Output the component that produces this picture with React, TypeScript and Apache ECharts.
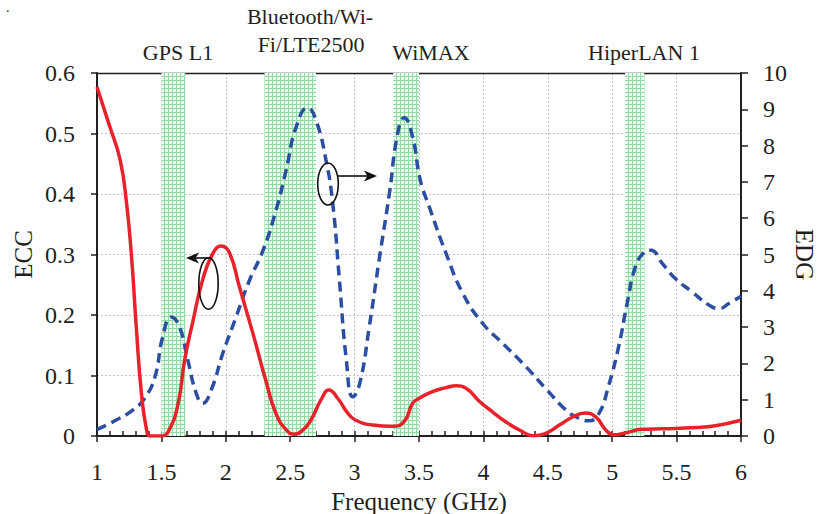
import React, { useEffect, useRef } from "react";
import * as echarts from "echarts";

// ECC (left axis)
const eccFreq = [1.0, 1.1, 1.18, 1.23, 1.27, 1.305, 1.345, 1.385, 1.41, 1.5, 1.56, 1.63, 1.68, 1.745, 1.82, 1.9, 1.965, 2.03, 2.105, 2.21, 2.31, 2.39, 2.47, 2.53, 2.6, 2.66, 2.74, 2.8, 2.87, 2.95, 3.01, 3.14, 3.29, 3.385, 3.45, 3.5, 3.6, 3.71, 3.79, 3.865, 3.97, 4.07, 4.17, 4.28, 4.39, 4.48, 4.59, 4.69, 4.79, 4.87, 4.95, 5.01, 5.1, 5.23, 5.39, 5.65, 5.8, 6.0];
const eccValues = [0.577, 0.511, 0.456, 0.384, 0.291, 0.18, 0.07, 0.01, 0, 0, 0.01, 0.054, 0.125, 0.19, 0.258, 0.302, 0.314, 0.302, 0.247, 0.17, 0.092, 0.037, 0.01, 0.003, 0.01, 0.026, 0.06, 0.076, 0.062, 0.037, 0.026, 0.018, 0.016, 0.024, 0.054, 0.062, 0.073, 0.08, 0.083, 0.079, 0.057, 0.04, 0.024, 0.01, 0.0005, 0.004, 0.018, 0.031, 0.038, 0.032, 0.01, 0.002, 0.005, 0.011, 0.012, 0.014, 0.017, 0.026];

// EDG (right axis)
const edgFreq = [1.0, 1.15, 1.28, 1.37, 1.45, 1.51, 1.577, 1.64, 1.705, 1.77, 1.82, 1.887, 1.977, 2.08, 2.184, 2.29, 2.39, 2.468, 2.546, 2.636, 2.7, 2.778, 2.83, 2.88, 2.936, 2.986, 3.04, 3.114, 3.19, 3.27, 3.334, 3.385, 3.45, 3.51, 3.58, 3.71, 3.84, 3.995, 4.15, 4.33, 4.483, 4.64, 4.74, 4.82, 4.897, 4.97, 5.05, 5.116, 5.18, 5.245, 5.3, 5.39, 5.49, 5.62, 5.75, 5.83, 5.905, 6.0];
const edgValues = [0.18, 0.44, 0.72, 1.04, 1.63, 2.73, 3.28, 3.01, 2.09, 1.18, 0.9, 1.27, 2.28, 3.28, 4.29, 5.12, 6.22, 7.32, 8.51, 9.04, 8.7, 7.6, 6.41, 4.39, 2.09, 1.08, 1.45, 3.01, 4.84, 6.68, 8.33, 8.77, 8.24, 7.05, 6.31, 5.03, 3.93, 3.1, 2.55, 1.91, 1.31, 0.72, 0.49, 0.42, 0.62, 1.36, 2.46, 3.65, 4.66, 5.05, 5.12, 4.75, 4.34, 3.97, 3.61, 3.51, 3.65, 3.85];

// Frequency bands (GHz)
const bandNames = ["GPS L1", "Bluetooth/Wi-Fi/LTE2500", "WiMAX", "HiperLAN 1"];
const bandStart = [1.5, 2.3, 3.3, 5.1];
const bandEnd = [1.685, 2.7, 3.5, 5.25];

const xTicks = { min: 1, max: 6, interval: 0.5 };
const eccTicks = { min: 0, max: 0.6, interval: 0.1 };
const edgTicks = { min: 0, max: 10, interval: 1 };

const FONT = "Liberation Serif";
const INK = "#231f20";

const patternSvg =
  "<svg xmlns='http://www.w3.org/2000/svg' width='4' height='4'>" +
  "<rect width='4' height='4' fill='#eef9f1'/>" +
  "<path d='M0 0.5H4M0.5 0V4' stroke='#8fdca3' stroke-width='1'/></svg>";
const patternUrl = "data:image/svg+xml;charset=utf-8," + encodeURIComponent(patternSvg);

export default function App() {
  const ref = useRef<HTMLDivElement>(null);

  useEffect(() => {
    if (!ref.current) return;
    const chart = echarts.init(ref.current, null, { renderer: "svg" });
    const gridRect = {
      left: 97,
      right: 76,
      top: 73,
      bottom: 78,
      containLabel: false,
      outerBoundsMode: "none",
    };

    const bandData = bandStart.map((s, i) => [
      { xAxis: s, name: bandNames[i] },
      { xAxis: bandEnd[i] },
    ]);

    const textStyle = (text: string, x: number, y: number) => ({
      type: "text",
      x,
      y,
      style: {
        text,
        fill: INK,
        fontFamily: FONT,
        fontSize: 22,
        align: "center",
        verticalAlign: "middle",
      },
      silent: true,
    });

    const tickFont = { color: INK, fontFamily: FONT, fontSize: 24, fontWeight: "normal" };
    const nameFont = { color: INK, fontFamily: FONT, fontSize: 25, fontWeight: "normal", lineHeight: 25 };
    const sideNameFont = { ...nameFont, align: "center", verticalAlign: "middle" };

    const option: any = {
      animation: false,
      backgroundColor: "#ffffff",
      textStyle: { fontFamily: FONT },
      grid: [{ ...gridRect }, { ...gridRect }],
      xAxis: [
        {
          type: "value",
          gridIndex: 0,
          position: "bottom",
          ...xTicks,
          axisLine: { show: true, onZero: false, lineStyle: { color: INK, width: 2 } },
          axisTick: { show: true, inside: true, length: 5, lineStyle: { color: INK, width: 1.5 } },
          minorTick: { show: true, splitNumber: 5, length: 5, lineStyle: { color: INK, width: 1.5 } },
          axisLabel: { ...tickFont, margin: 24 },
          splitLine: { show: true, lineStyle: { color: "#c4c4c4", type: [2, 2], width: 1 } },
          name: "Frequency (GHz)",
          nameLocation: "middle",
          nameGap: 47,
          nameTextStyle: nameFont,
        },
        {
          type: "value",
          gridIndex: 0,
          position: "top",
          ...xTicks,
          axisLine: { show: true, onZero: false, lineStyle: { color: INK, width: 1.3 } },
          axisTick: { show: false },
          axisLabel: { show: false },
          splitLine: { show: false },
        },
        {
          type: "value",
          gridIndex: 1,
          position: "bottom",
          ...xTicks,
          axisLine: { show: false, onZero: false },
          axisTick: { show: true, inside: false, length: 6, lineStyle: { color: INK, width: 1.5 } },
          axisLabel: { show: false },
          splitLine: { show: false },
        },
      ],
      yAxis: [
        {
          type: "value",
          gridIndex: 0,
          position: "left",
          ...eccTicks,
          axisLine: { show: true, onZero: false, lineStyle: { color: INK, width: 2 } },
          axisTick: { show: true, inside: false, length: 6, lineStyle: { color: INK, width: 1.5 } },
          axisLabel: { ...tickFont, margin: 22 },
          splitLine: { show: true, lineStyle: { color: "#c4c4c4", type: [2, 2], width: 1 } },
          name: "ECC",
          nameLocation: "middle",
          nameRotate: 90,
          nameGap: 74,
          nameMoveOverlap: false,
          nameTextStyle: sideNameFont,
        },
        {
          type: "value",
          gridIndex: 0,
          position: "right",
          ...edgTicks,
          axisLine: { show: true, onZero: false, lineStyle: { color: INK, width: 2 } },
          axisTick: { show: true, inside: false, length: 7, lineStyle: { color: INK, width: 1.5 } },
          axisLabel: { ...tickFont, margin: 22 },
          splitLine: { show: false },
          name: "EDG",
          nameLocation: "middle",
          nameRotate: -90,
          nameGap: 63,
          nameMoveOverlap: false,
          nameTextStyle: sideNameFont,
        },
        {
          type: "value",
          gridIndex: 1,
          show: false,
          min: 0,
          max: 1,
        },
      ],
      series: [
        {
          type: "line",
          name: "bands",
          xAxisIndex: 0,
          yAxisIndex: 0,
          data: [],
          z: 1,
          silent: true,
          markArea: {
            silent: true,
            itemStyle: {
              color: { image: patternUrl, repeat: "repeat", imageWidth: 4, imageHeight: 4 },
            },
            label: { show: false },
            data: bandData,
          },
        },
        {
          type: "line",
          name: "ECC",
          xAxisIndex: 0,
          yAxisIndex: 0,
          data: eccFreq.map((f, i) => [f, eccValues[i]]),
          smooth: 0.5,
          showSymbol: false,
          symbol: "none",
          z: 4,
          lineStyle: { color: "#e8212b", width: 3.5 },
        },
        {
          type: "line",
          name: "EDG",
          xAxisIndex: 0,
          yAxisIndex: 1,
          data: edgFreq.map((f, i) => [f, edgValues[i]]),
          smooth: 0.5,
          showSymbol: false,
          symbol: "none",
          z: 3,
          lineStyle: { color: "#2b4ea3", width: 3.5, type: [10, 6] },
        },
      ],
      graphic: [
        textStyle("GPS L1", 178, 52.5),
        textStyle("Bluetooth/Wi-", 310, 16),
        textStyle("Fi/LTE2500", 311, 44),
        textStyle("WiMAX", 431, 52.5),
        textStyle("HiperLAN 1", 644, 52),
        {
          type: "text",
          x: 6,
          y: 0,
          style: { text: ".", fill: INK, fontFamily: FONT, fontSize: 14 },
          silent: true,
        },
        // ECC annotation (points left)
        {
          type: "ellipse",
          shape: { cx: 208.5, cy: 283.5, rx: 9.7, ry: 25.8 },
          style: { fill: "none", stroke: "#111", lineWidth: 1.6 },
          z: 10,
        },
        {
          type: "line",
          shape: { x1: 211, y1: 258, x2: 194, y2: 258 },
          style: { stroke: "#111", lineWidth: 1.6 },
          z: 10,
        },
        {
          type: "polygon",
          shape: { points: [[186, 258], [199, 252.5], [195.5, 258], [199, 263.5]] },
          style: { fill: "#111" },
          z: 10,
        },
        // EDG annotation (points right)
        {
          type: "ellipse",
          shape: { cx: 328, cy: 184, rx: 10.3, ry: 21 },
          style: { fill: "none", stroke: "#111", lineWidth: 1.6 },
          z: 10,
        },
        {
          type: "line",
          shape: { x1: 338, y1: 176, x2: 369, y2: 176 },
          style: { stroke: "#111", lineWidth: 1.6 },
          z: 10,
        },
        {
          type: "polygon",
          shape: { points: [[377, 176], [364, 170.5], [367.5, 176], [364, 181.5]] },
          style: { fill: "#111" },
          z: 10,
        },
      ],
    };

    chart.setOption(option);
    return () => chart.dispose();
  }, []);

  return (
    <div
      ref={ref}
      style={{ position: "fixed", left: 0, top: 0, width: 817, height: 514, background: "#fff" }}
    />
  );
}
